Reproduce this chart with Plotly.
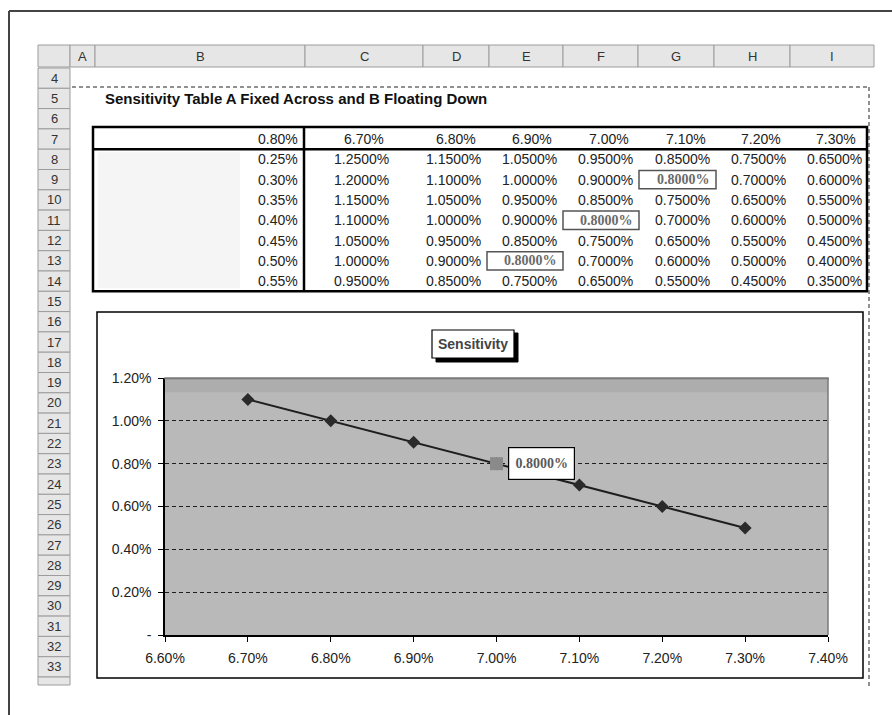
import plotly.graph_objects as go

W, H = 892, 715

# ---------------- sensitivity table values ----------------
a_rates = [0.0670, 0.0680, 0.0690, 0.0700, 0.0710, 0.0720, 0.0730]   # fixed across
b_rates = [0.0025, 0.0030, 0.0035, 0.0040, 0.0045, 0.0050, 0.0055]   # floating down
target_rate = 0.0080
result_rows = [
    [0.0125, 0.0115, 0.0105, 0.0095, 0.0085, 0.0075, 0.0065],
    [0.0120, 0.0110, 0.0100, 0.0090, 0.0080, 0.0070, 0.0060],
    [0.0115, 0.0105, 0.0095, 0.0085, 0.0075, 0.0065, 0.0055],
    [0.0110, 0.0100, 0.0090, 0.0080, 0.0070, 0.0060, 0.0050],
    [0.0105, 0.0095, 0.0085, 0.0075, 0.0065, 0.0055, 0.0045],
    [0.0100, 0.0090, 0.0080, 0.0070, 0.0060, 0.0050, 0.0040],
    [0.0095, 0.0085, 0.0075, 0.0065, 0.0055, 0.0045, 0.0035],
]

# ---------------- chart series ----------------
chart_a = [0.0670, 0.0680, 0.0690, 0.0700, 0.0710, 0.0720, 0.0730]
chart_result = [0.0110, 0.0100, 0.0090, 0.0080, 0.0070, 0.0060, 0.0050]

x_ticks = [0.066, 0.067, 0.068, 0.069, 0.070, 0.071, 0.072, 0.073, 0.074]
x_tick_text = ["6.60%", "6.70%", "6.80%", "6.90%", "7.00%", "7.10%", "7.20%", "7.30%", "7.40%"]
y_ticks = [0.0, 0.002, 0.004, 0.006, 0.008, 0.010, 0.012]
y_tick_text = ["-", "0.20%", "0.40%", "0.60%", "0.80%", "1.00%", "1.20%"]

column_letters = ["A", "B", "C", "D", "E", "F", "G", "H", "I"]
row_numbers = list(range(4, 34))
sheet_title = "Sensitivity Table A Fixed Across and B Floating Down"
chart_title = "Sensitivity"

SANS = "Liberation Sans, Arial, sans-serif"
SERIF = "Liberation Serif, Times New Roman, serif"

# ---------------- sheet geometry (pixels) ----------------
ROW_TOP0 = 68.0
ROW_H = 20.3


def row_top(r):
    return ROW_TOP0 + (r - 4) * ROW_H


def row_mid(r):
    return row_top(r) + ROW_H / 2


hdr_edges = [38, 70, 95, 305, 423, 489, 563, 638, 714, 790, 874]
cell_left = [304, 395, 487, 563, 639, 716, 792]
cell_right = [395, 487, 563, 639, 716, 792, 868]
val_right = [390, 482, 558, 634, 711, 787, 863]
head_right = [385, 477, 553, 630, 707, 782, 857]


def X(p):
    return p / W


def Y(p):
    return 1 - p / H


shapes = []
annotations = []


def rect(x0, y0, x1, y1, fill="rgba(0,0,0,0)", line="rgba(0,0,0,0)", width=1, layer="above", dash="solid"):
    shapes.append(dict(type="rect", xref="paper", yref="paper",
                       x0=X(x0), x1=X(x1), y0=Y(y1), y1=Y(y0),
                       fillcolor=fill, layer=layer,
                       line=dict(color=line, width=width, dash=dash)))


def seg(x0, y0, x1, y1, color="black", width=1, dash="solid", layer="above"):
    shapes.append(dict(type="line", xref="paper", yref="paper",
                       x0=X(x0), x1=X(x1), y0=Y(y0), y1=Y(y1), layer=layer,
                       line=dict(color=color, width=width, dash=dash)))


def text(x, y, s, anchor="center", size=14, color="#222", family=SANS):
    annotations.append(dict(xref="paper", yref="paper", x=X(x), y=Y(y),
                            xanchor=anchor, yanchor="middle", text=s,
                            showarrow=False, borderpad=0,
                            font=dict(family=family, size=size, color=color)))


# outer frame of the page
seg(9, 11, 892, 11, color="#444", width=2)
seg(9, 11, 9, 715, color="#444", width=2)

# column header strip
hdr_top, hdr_bot = 45, 67
for i in range(len(hdr_edges) - 1):
    rect(hdr_edges[i], hdr_top, hdr_edges[i + 1], hdr_bot, fill="#e6e6e6", line="#9c9c9c")
for i, letter in enumerate(column_letters):
    cx = (hdr_edges[i + 1] + hdr_edges[i + 2]) / 2
    text(cx, (hdr_top + hdr_bot) / 2, letter, size=13, color="#333")

# row number strip
for r in row_numbers:
    rect(38, row_top(r), 70, row_top(r + 1), fill="#e6e6e6", line="#9c9c9c")
    text(54, row_mid(r), str(r), size=13, color="#333")
rect(38, row_top(34), 70, row_top(34) + 8, fill="#e6e6e6", line="#9c9c9c")

# print-area boundary
seg(72, 87, 869, 87, color="#222", width=1, dash="4px,3px")
seg(869, 87, 869, 688, color="#222", width=1, dash="4px,3px")

# sheet title
annotations.append(dict(xref="paper", yref="paper", x=X(103), y=Y(row_mid(5)),
                        xanchor="left", yanchor="middle", showarrow=False,
                        text="<b>" + sheet_title + "</b>",
                        font=dict(family=SANS, size=15, color="#111")))

# ---------------- table ----------------
rect(98, row_top(8) + 3, 240, row_top(15) - 3, fill="#f5f5f5", layer="below")
t_top, t_hdr, t_bot = 127, row_top(8), row_top(15)
rect(93, t_top, 867, t_bot, line="black", width=2.5)
seg(93, t_hdr, 867, t_hdr, width=2.5)
seg(304, t_top, 304, t_bot, width=2.5)

text(299, row_mid(7), f"{target_rate:.2%}", anchor="right")
for j, a in enumerate(a_rates):
    text(head_right[j], row_mid(7), f"{a:.2%}", anchor="right")

for i, b in enumerate(b_rates):
    r = 8 + i
    text(299, row_mid(r), f"{b:.2%}", anchor="right")
    for j, v in enumerate(result_rows[i]):
        label = f"{v:.4%}"
        if abs(v - target_rate) < 1e-9:
            rect(cell_left[j], row_top(r) + 1, cell_right[j], row_top(r + 1) - 1, line="#555", width=1.5)
            text(val_right[j], row_mid(r), "<b>" + label + "</b>", anchor="right",
                 color="#6a6a6a", family=SERIF)
        else:
            text(val_right[j], row_mid(r), label, anchor="right")

# ---------------- chart ----------------
# chart object frame
rect(97, 312, 863, 678, line="black", width=1.5, layer="below")

# chart title box with drop shadow
rect(436, 333, 518, 362, fill="black", line="black")
rect(432, 330, 514, 358, fill="white", line="black", width=1.2)
text(473, 344, "<b>" + chart_title + "</b>", size=14, color="#444")

plot_l, plot_r, plot_t, plot_b = 165, 828, 378, 635

# slightly darker band along the top of the plot area, plus its border
shapes.append(dict(type="rect", xref="x domain", yref="y domain", x0=0, x1=1, y0=0.945, y1=1,
                   fillcolor="#adadad", line=dict(width=0), layer="below"))
rect(plot_l, plot_t, plot_r, plot_t + 0.5, line="#7a7a7a", width=1.5)
seg(plot_r, plot_t, plot_r, plot_b, color="#7a7a7a", width=1.5)

fig = go.Figure()
fig.add_trace(go.Scatter(
    x=chart_a, y=chart_result, mode="lines+markers",
    line=dict(color="#1e1e1e", width=2),
    marker=dict(symbol="diamond", size=10, color="#2a2a2a"),
    hoverinfo="skip", showlegend=False))

hit_x = [a for a, v in zip(chart_a, chart_result) if abs(v - target_rate) < 1e-9]
hit_y = [v for v in chart_result if abs(v - target_rate) < 1e-9]
fig.add_trace(go.Scatter(
    x=hit_x, y=hit_y, mode="markers",
    marker=dict(symbol="square", size=13, color="#8a8a8a"),
    hoverinfo="skip", showlegend=False))

for hx, hy in zip(hit_x, hit_y):
    annotations.append(dict(xref="x", yref="y", x=hx, y=hy, xanchor="left", yanchor="middle",
                            xshift=11, showarrow=False, text=f"<b>{hy:.4%}</b>",
                            width=59, height=25, borderpad=3,
                            bgcolor="white", bordercolor="black", borderwidth=1.2,
                            font=dict(family=SERIF, size=14, color="#5a5a5a")))

fig.update_layout(
    width=W, height=H, autosize=False,
    margin=dict(l=0, r=0, t=0, b=0, pad=0, autoexpand=False),
    paper_bgcolor="white", plot_bgcolor="#b9b9b9",
    font=dict(family=SANS, size=14, color="#222"),
    shapes=shapes, annotations=annotations,
    xaxis=dict(domain=[X(plot_l), X(plot_r)], range=[0.066, 0.074], automargin=False,
               tickvals=x_ticks, ticktext=x_tick_text, showgrid=False, zeroline=False,
               showline=True, linecolor="black", linewidth=1.5,
               ticks="outside", ticklen=5, tickcolor="black", ticklabelstandoff=4,
               tickfont=dict(family=SANS, size=14, color="#222")),
    yaxis=dict(domain=[Y(plot_b), Y(plot_t)], range=[0, 0.012], automargin=False,
               tickvals=y_ticks, ticktext=y_tick_text, showgrid=True,
               gridcolor="#1e1e1e", gridwidth=1, griddash="4px,3px", zeroline=False,
               showline=True, linecolor="black", linewidth=1.5,
               ticks="outside", ticklen=5, tickcolor="black", ticklabelstandoff=4,
               tickfont=dict(family=SANS, size=14, color="#222")),
)

fig.write_html("out.html")
